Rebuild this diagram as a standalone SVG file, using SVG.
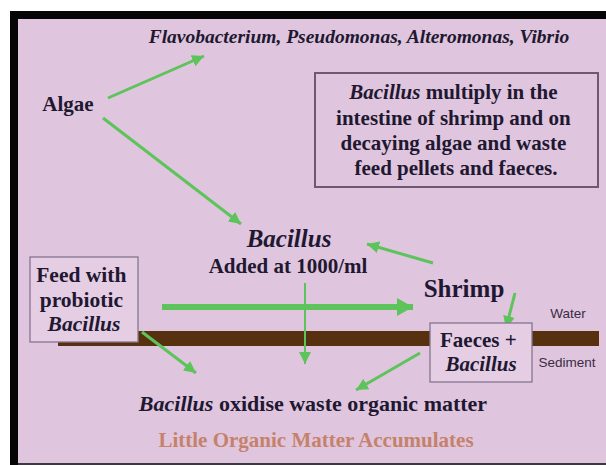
<svg xmlns="http://www.w3.org/2000/svg" width="606" height="465" viewBox="0 0 606 465">
<style>
.t{font-family:"Liberation Serif","Times New Roman",serif;font-weight:bold;fill:#201830}
.i{font-style:italic}
.s{font-family:"Liberation Sans",Arial,sans-serif;fill:#3a2c44}
.ln{stroke:#5cc45a;stroke-width:3;fill:none}
.box{fill:#e5cde4;stroke:#857590;stroke-width:1.3}
</style>
<defs>
<marker id="ah" markerUnits="userSpaceOnUse" markerWidth="14" markerHeight="12" refX="12" refY="6" orient="auto">
<path d="M0,0 L12,6 L0,12 z" fill="#5cc45a"/>
</marker>
<marker id="ahb" markerUnits="userSpaceOnUse" markerWidth="18" markerHeight="18" refX="16" refY="9" orient="auto">
<path d="M0,0 L16,9 L0,18 z" fill="#5cc45a"/>
</marker>
</defs>
<rect x="0" y="0" width="606" height="465" fill="#ffffff"/>
<rect x="10" y="11" width="596" height="454" fill="#050505"/>
<rect x="18" y="19" width="588" height="444" fill="#e0c5df"/>
<rect x="18" y="463" width="588" height="2" fill="#3c3a40"/>
<g id="sediment-line">
<rect x="58" y="331" width="541" height="15" fill="#56300f"/>
</g>
<g id="connectors">
<line class="ln" x1="108" y1="98" x2="204" y2="56" marker-end="url(#ah)"/>
<line class="ln" x1="103" y1="118" x2="241" y2="224" marker-end="url(#ah)"/>
<line class="ln" x1="433" y1="263" x2="367" y2="244" marker-end="url(#ah)"/>
<line class="ln" x1="162" y1="307" x2="413" y2="307" style="stroke-width:6" marker-end="url(#ahb)"/>
<line class="ln" x1="305" y1="283" x2="305" y2="364" style="stroke-width:2" marker-end="url(#ah)"/>
<line class="ln" x1="515" y1="293" x2="506" y2="328" marker-end="url(#ah)"/>
<line class="ln" x1="142" y1="332" x2="196" y2="373" marker-end="url(#ah)"/>
<line class="ln" x1="420" y1="353" x2="356" y2="390" marker-end="url(#ah)"/>
</g>
<g id="flavo">
<text class="t i" x="359" y="43" font-size="19.5" text-anchor="middle">Flavobacterium, Pseudomonas, Alteromonas, Vibrio</text>
</g>
<g id="algae">
<text class="t" x="68" y="111" font-size="21" text-anchor="middle">Algae</text>
</g>
<g id="note">
<rect x="315" y="73" width="283" height="114" fill="none" stroke="#6d5a72" stroke-width="2"/>
<text class="t" font-size="21" text-anchor="middle">
<tspan x="456" y="99"><tspan class="i">Bacillus</tspan> multiply in the</tspan>
<tspan x="456" y="125">intestine of shrimp and on</tspan>
<tspan x="456" y="150">decaying algae and waste</tspan>
<tspan x="456" y="175">feed pellets and faeces.</tspan>
</text>
</g>
<g id="bacillus">
<text class="t i" x="289" y="247" font-size="25" text-anchor="middle">Bacillus</text>
<text class="t" x="288" y="273" font-size="21" text-anchor="middle">Added at 1000/ml</text>
</g>
<g id="shrimp">
<text class="t" x="464" y="297" font-size="25" text-anchor="middle">Shrimp</text>
</g>
<g id="feed">
<rect class="box" x="30" y="257" width="108" height="85"/>
<text class="t" font-size="21.5" text-anchor="middle">
<tspan x="84" y="282">Feed with</tspan>
<tspan x="84" y="307">probiotic</tspan>
<tspan x="84" y="331" class="i">Bacillus</tspan>
</text>
</g>
<g id="faeces">
<rect class="box" x="430" y="323" width="102" height="59"/>
<text class="t" font-size="21" text-anchor="middle">
<tspan x="481" y="347">Faeces +</tspan>
<tspan x="481" y="371" class="i">Bacillus</tspan>
</text>
</g>
<g id="water">
<text class="s" x="568" y="318" font-size="13.5" text-anchor="middle">Water</text>
</g>
<g id="sediment">
<text class="s" x="567" y="367" font-size="13.5" text-anchor="middle">Sediment</text>
</g>
<g id="oxidise">
<text class="t" x="313" y="411" font-size="22" text-anchor="middle"><tspan class="i">Bacillus</tspan> oxidise waste organic matter</text>
</g>
<g id="little">
<text class="t" x="316" y="447" font-size="21" text-anchor="middle" style="fill:#c4826a">Little Organic Matter Accumulates</text>
</g>
</svg>
